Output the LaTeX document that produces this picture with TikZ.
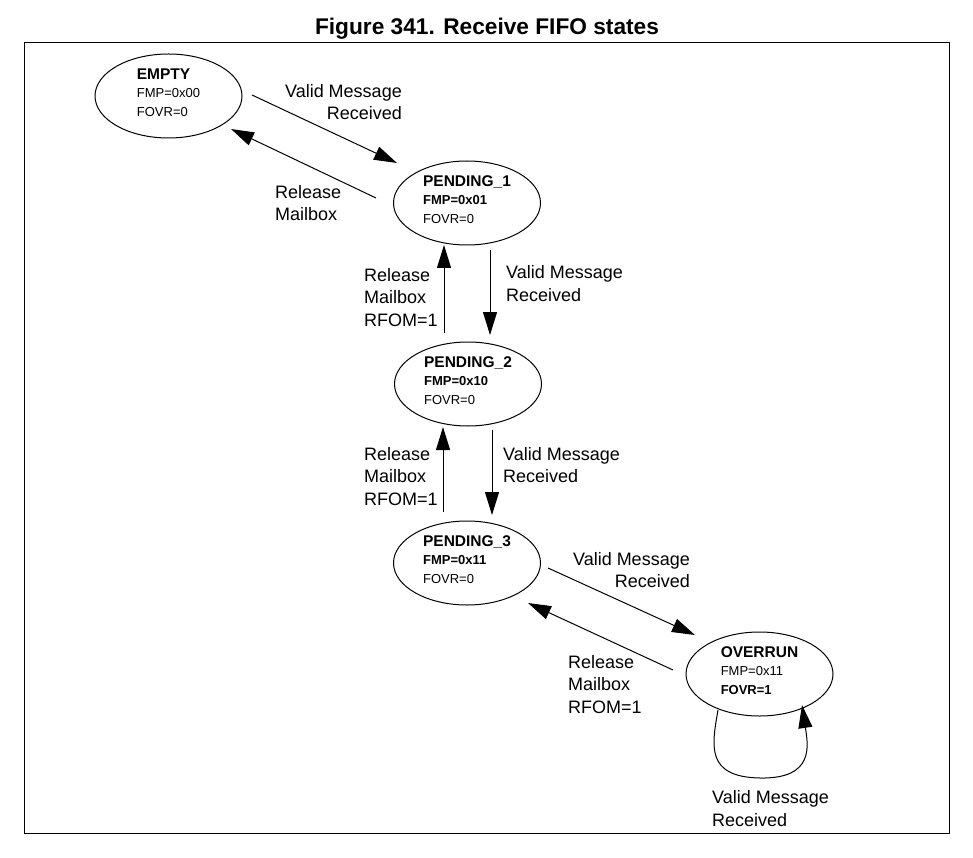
\documentclass[tikz,border=0pt]{standalone}
\usepackage{fontspec}
\setmainfont{Liberation Sans}
\usetikzlibrary{arrows.meta,shapes.geometric}
\newcommand\sttitle[1]{{\fontsize{15.5}{18.5}\selectfont\bfseries #1}}
\begin{document}
\begin{tikzpicture}[x=1pt,y=-1pt,
  st/.style={draw, ellipse, line width=1pt, minimum width=147pt, minimum height=84pt,
    inner sep=0pt, align=left, font=\fontsize{13}{18.5}\selectfont},
  arr/.style={line width=1pt, -{Triangle[length=23pt,width=14pt]}},
  lblw/.style={inner sep=0pt, anchor=north west, align=left, font=\fontsize{18}{22.7}\selectfont},
  lble/.style={inner sep=0pt, anchor=north east, align=right, font=\fontsize{18}{22.7}\selectfont},
]
\useasboundingbox (0,0) rectangle (973,858);
\draw[line width=1pt] (24,43) rectangle (949,833);
\node[anchor=base, inner sep=0pt, font=\fontsize{22.7}{27}\selectfont\bfseries] (title) at (487,35) {Figure 341. Receive FIFO states};

\node[st] (e)  at (168.5,96) {\sttitle{EMPTY}\\FMP=0x00\\FOVR=0\rule[-7pt]{0pt}{0pt}};
\node[st] (p1) at (467,203)  {\sttitle{PENDING\_1}\\\textbf{FMP=0x01}\\FOVR=0\rule[-7pt]{0pt}{0pt}};
\node[st] (p2) at (468,384)  {\sttitle{PENDING\_2}\\\textbf{FMP=0x10}\\FOVR=0\rule[-7pt]{0pt}{0pt}};
\node[st] (p3) at (467,563)  {\sttitle{PENDING\_3}\\\textbf{FMP=0x11}\\FOVR=0\rule[-7pt]{0pt}{0pt}};
\node[st] (ov) at (759.5,674) {\sttitle{OVERRUN}\\FMP=0x11\\\textbf{FOVR=1}\rule[-7pt]{0pt}{0pt}};

\draw[arr] ([shift={(83.5,-1)}]e.center) -- ([shift={(-70,-40)}]p1.center);
\draw[arr] ([shift={(-91,-5)}]p1.center) -- ([shift={(62.5,33)}]e.center);
\draw[arr] ([shift={(23,47)}]p1.center) -- ([shift={(22,-49)}]p2.center);
\draw[arr] ([shift={(-24,-51)}]p2.center) -- ([shift={(-23,42)}]p1.center);
\draw[arr] ([shift={(24,46)}]p2.center) -- ([shift={(25,-48)}]p3.center);
\draw[arr] ([shift={(-24,-51)}]p3.center) -- ([shift={(-25,43)}]p2.center);
\draw[arr] ([shift={(81,5)}]p3.center) -- ([shift={(-64.5,-39)}]ov.center);
\draw[arr] ([shift={(-86.5,-4)}]ov.center) -- ([shift={(61,40)}]p3.center);
\draw[arr] ([shift={(-41.5,36)}]ov.center) .. controls (712,745) and (705,777) .. (760,778)
   .. controls (815,779) and (808,745) .. ([shift={(42.5,31)}]ov.center);

\node[lble] (l1) at (402,84) {Valid Message\\Received};
\node[lblw] (l2) at (275,185) {Release\\Mailbox};
\node[lblw] (l3) at (506,265.5) {Valid Message\\Received};
\node[lblw] (l4) at (364,268) {Release\\Mailbox\\RFOM=1};
\node[lblw] (l5) at (503,447) {Valid Message\\Received};
\node[lblw] (l6) at (364,447) {Release\\Mailbox\\RFOM=1};
\node[lble] (l7) at (690,552) {Valid Message\\Received};
\node[lblw] (l8) at (568,655) {Release\\Mailbox\\RFOM=1};
\node[lblw] (l9) at (712,790.4) {Valid Message\\Received};
\end{tikzpicture}
\end{document}
